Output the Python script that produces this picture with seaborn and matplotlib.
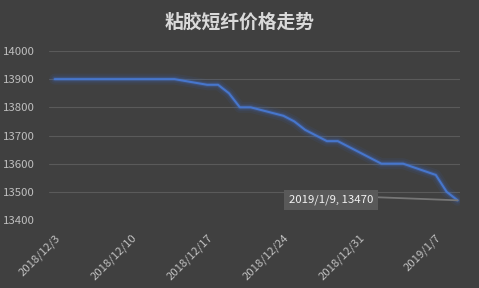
import matplotlib
matplotlib.use("Agg")
import matplotlib.pyplot as plt
import matplotlib.patheffects as pe
import seaborn as sns
import pandas as pd

# ---- data ----
dates = ["2018-12-03", "2018-12-04", "2018-12-05", "2018-12-06", "2018-12-07",
         "2018-12-10", "2018-12-11", "2018-12-12", "2018-12-13", "2018-12-14",
         "2018-12-17", "2018-12-18", "2018-12-19", "2018-12-20", "2018-12-21",
         "2018-12-24", "2018-12-25", "2018-12-26", "2018-12-27", "2018-12-28",
         "2018-12-29", "2019-01-02", "2019-01-03", "2019-01-04", "2019-01-07",
         "2019-01-08", "2019-01-09"]
prices = [13900, 13900, 13900, 13900, 13900,
          13900, 13900, 13900, 13900, 13900,
          13880, 13880, 13850, 13800, 13800,
          13770, 13750, 13720, 13700, 13680,
          13680, 13600, 13600, 13600, 13560,
          13500, 13470]
tick_labels = ["2018/12/3", "2018/12/10", "2018/12/17", "2018/12/24", "2018/12/31", "2019/1/7"]
y_ticks = [13400, 13500, 13600, 13700, 13800, 13900, 14000]
title = "粘胶短纤价格走势"
callout = "2019/1/9, 13470"

df = pd.DataFrame({"date": pd.to_datetime(dates), "price": prices})

BG = "#404040"
sns.set_theme(style="dark")
plt.rcParams["font.family"] = ["Noto Sans CJK SC", "DejaVu Sans"]

fig = plt.figure(figsize=(4.79, 2.88), dpi=100, facecolor=BG)
ax = fig.add_axes([0.102, 0.236, 0.858, 0.587])
ax.set_facecolor(BG)

line_color = "#4776cc"
sns.lineplot(data=df, x="date", y="price", ax=ax, color=line_color, linewidth=1.5,
             path_effects=[pe.Stroke(linewidth=8, foreground="#3a64b8", alpha=0.10),
                           pe.Stroke(linewidth=5, foreground="#3a64b8", alpha=0.15),
                           pe.Stroke(linewidth=3, foreground="#4472c4", alpha=0.25),
                           pe.Normal()])

ax.set_ylim(13400, 14000)
ax.set_yticks(y_ticks)
x0 = df["date"].iloc[0] - pd.Timedelta(hours=13)
x1 = df["date"].iloc[-1] + pd.Timedelta(hours=5)
ax.set_xlim(x0, x1)
ax.set_xticks(pd.to_datetime(tick_labels, format="%Y/%m/%d"))
ax.set_xticklabels(tick_labels, rotation=45, ha="right", va="top",
                   rotation_mode="anchor")

ax.tick_params(axis="both", colors="#bfbfbf", labelsize=8.2, length=0)
ax.tick_params(axis="y", pad=10)
ax.tick_params(axis="x", pad=9)
for lbl in ax.get_xticklabels() + ax.get_yticklabels():
    lbl.set_color("#bfbfbf")

ax.yaxis.grid(True, color="#5a5a5a", linewidth=0.8)
ax.xaxis.grid(False)
ax.get_ygridlines()[0].set_visible(False)
for s in ax.spines.values():
    s.set_visible(False)
ax.set_xlabel("")
ax.set_ylabel("")

# callout annotation on last point
ax.annotate(callout, xy=(df["date"].iloc[-1], df["price"].iloc[-1]),
            xytext=(pd.Timestamp("2018-12-28") + pd.Timedelta(hours=10), 13472),
            ha="center", va="center", fontsize=8.2, color="#f2f2f2",
            bbox=dict(boxstyle="square,pad=0.42", fc="#595959", ec="none"),
            arrowprops=dict(arrowstyle="-", color="#767676", lw=1.3,
                            shrinkA=0, shrinkB=0, relpos=(1.0, 0.75)))

fig.text(0.5, 0.924, title, ha="center", va="center", fontsize=13.5,
         color="#d9d9d9", fontweight="bold")

fig.savefig("out.png", dpi=100, facecolor=BG)
